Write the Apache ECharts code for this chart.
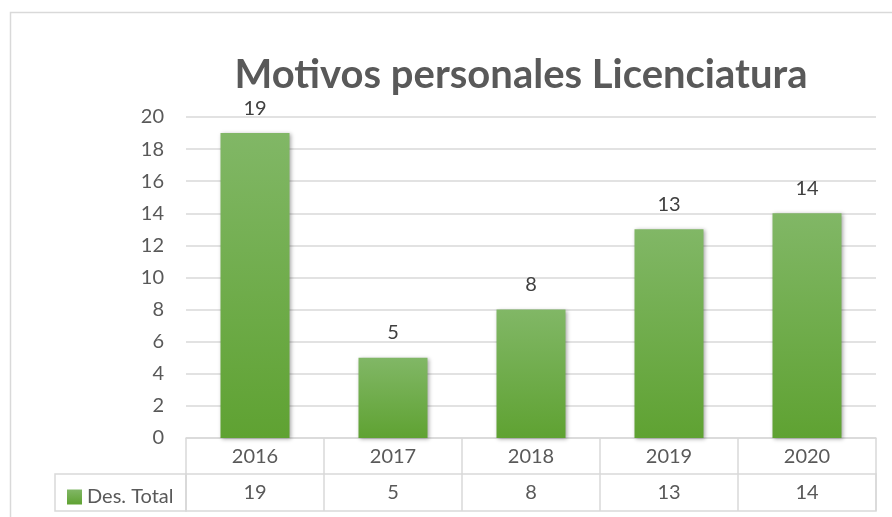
<!DOCTYPE html>
<html>
<head>
<meta charset="utf-8">
<style>
  html, body { margin: 0; padding: 0; background: #fff; }
  #chart-container { width: 892px; height: 517px; }
</style>
<script src="https://cdn.jsdelivr.net/npm/echarts@6/dist/echarts.min.js"></script>
</head>
<body>
<div id="chart-container"></div>
<script>
var years = ['2016', '2017', '2018', '2019', '2020'];
var totals = [19, 5, 8, 13, 14];
var seriesName = 'Des. Total';
var yTicks = { min: 0, max: 20, interval: 2 };

var dom = document.getElementById('chart-container');
var myChart = echarts.init(dom, null, { renderer: 'canvas' });

var font = 'Lato, "Open Sans", sans-serif';
var lineGray = '#d9d9d9';
var textGray = '#595959';
var fs = 20;

var option = {
  animation: false,
  textStyle: { fontFamily: font },
  graphic: [{
    type: 'rect',
    shape: { x: 10.5, y: 12.5, width: 900, height: 600 },
    style: { fill: 'none', stroke: lineGray, lineWidth: 1.5 },
    silent: true
  }],
  title: {
    text: 'Motivos personales Licenciatura',
    left: 516,
    textAlign: 'center',
    top: 50,
    textStyle: { fontFamily: font, fontSize: 40, fontWeight: 'bold', color: textGray }
  },
  legend: {
    data: [{ name: seriesName, icon: 'rect' }],
    left: 62,
    top: 482,
    itemWidth: 15,
    itemHeight: 15,
    itemGap: 4,
    textStyle: { fontFamily: font, fontSize: fs, color: textGray },
    selectedMode: false
  },
  grid: [
    { left: 186, right: 16, top: 117, bottom: 79 },
    { left: 186, right: 16, top: 474, height: 37, show: true, borderColor: lineGray, borderWidth: 1.5 },
    { left: 55, width: 131, top: 474, height: 37, show: true, borderColor: lineGray, borderWidth: 1.5 }
  ],
  xAxis: [
    {
      type: 'category',
      gridIndex: 0,
      data: years,
      axisLine: { lineStyle: { color: lineGray, width: 1.5 } },
      axisTick: { show: true, length: 36, lineStyle: { color: lineGray, width: 1.5 } },
      axisLabel: { color: textGray, fontSize: fs, margin: 9, fontFamily: font }
    },
    {
      type: 'category',
      gridIndex: 1,
      position: 'top',
      data: years,
      axisLine: { show: false },
      axisTick: { show: false },
      splitLine: { show: true, lineStyle: { color: lineGray, width: 1.5 } },
      axisLabel: {
        inside: true,
        margin: 9,
        color: textGray,
        fontSize: fs,
        fontFamily: font,
        formatter: function (v, i) { return String(totals[i]); }
      }
    },
    { type: 'category', gridIndex: 2, data: [''], show: false }
  ],
  yAxis: [
    {
      type: 'value',
      gridIndex: 0,
      min: yTicks.min,
      max: yTicks.max,
      interval: yTicks.interval,
      axisLine: { show: false },
      axisTick: { show: false },
      splitLine: { lineStyle: { color: lineGray, width: 1.5 } },
      axisLabel: { color: textGray, fontSize: fs, margin: 22, fontFamily: font }
    },
    { type: 'value', gridIndex: 1, show: false },
    { type: 'value', gridIndex: 2, show: false }
  ],
  series: [{
    name: seriesName,
    type: 'bar',
    xAxisIndex: 0,
    yAxisIndex: 0,
    data: totals,
    barWidth: '50%',
    itemStyle: {
      color: new echarts.graphic.LinearGradient(0, 0, 0, 1, [
        { offset: 0, color: '#81b766' },
        { offset: 1, color: '#5fa232' }
      ]),
      shadowColor: 'rgba(0,0,0,0.35)',
      shadowBlur: 4,
      shadowOffsetX: 1,
      shadowOffsetY: 1
    },
    label: {
      show: true,
      position: 'top',
      distance: 15,
      color: '#404040',
      fontSize: fs,
      fontFamily: font
    }
  }]
};

myChart.setOption(option);
window.addEventListener('resize', myChart.resize);
</script>
</body>
</html>
